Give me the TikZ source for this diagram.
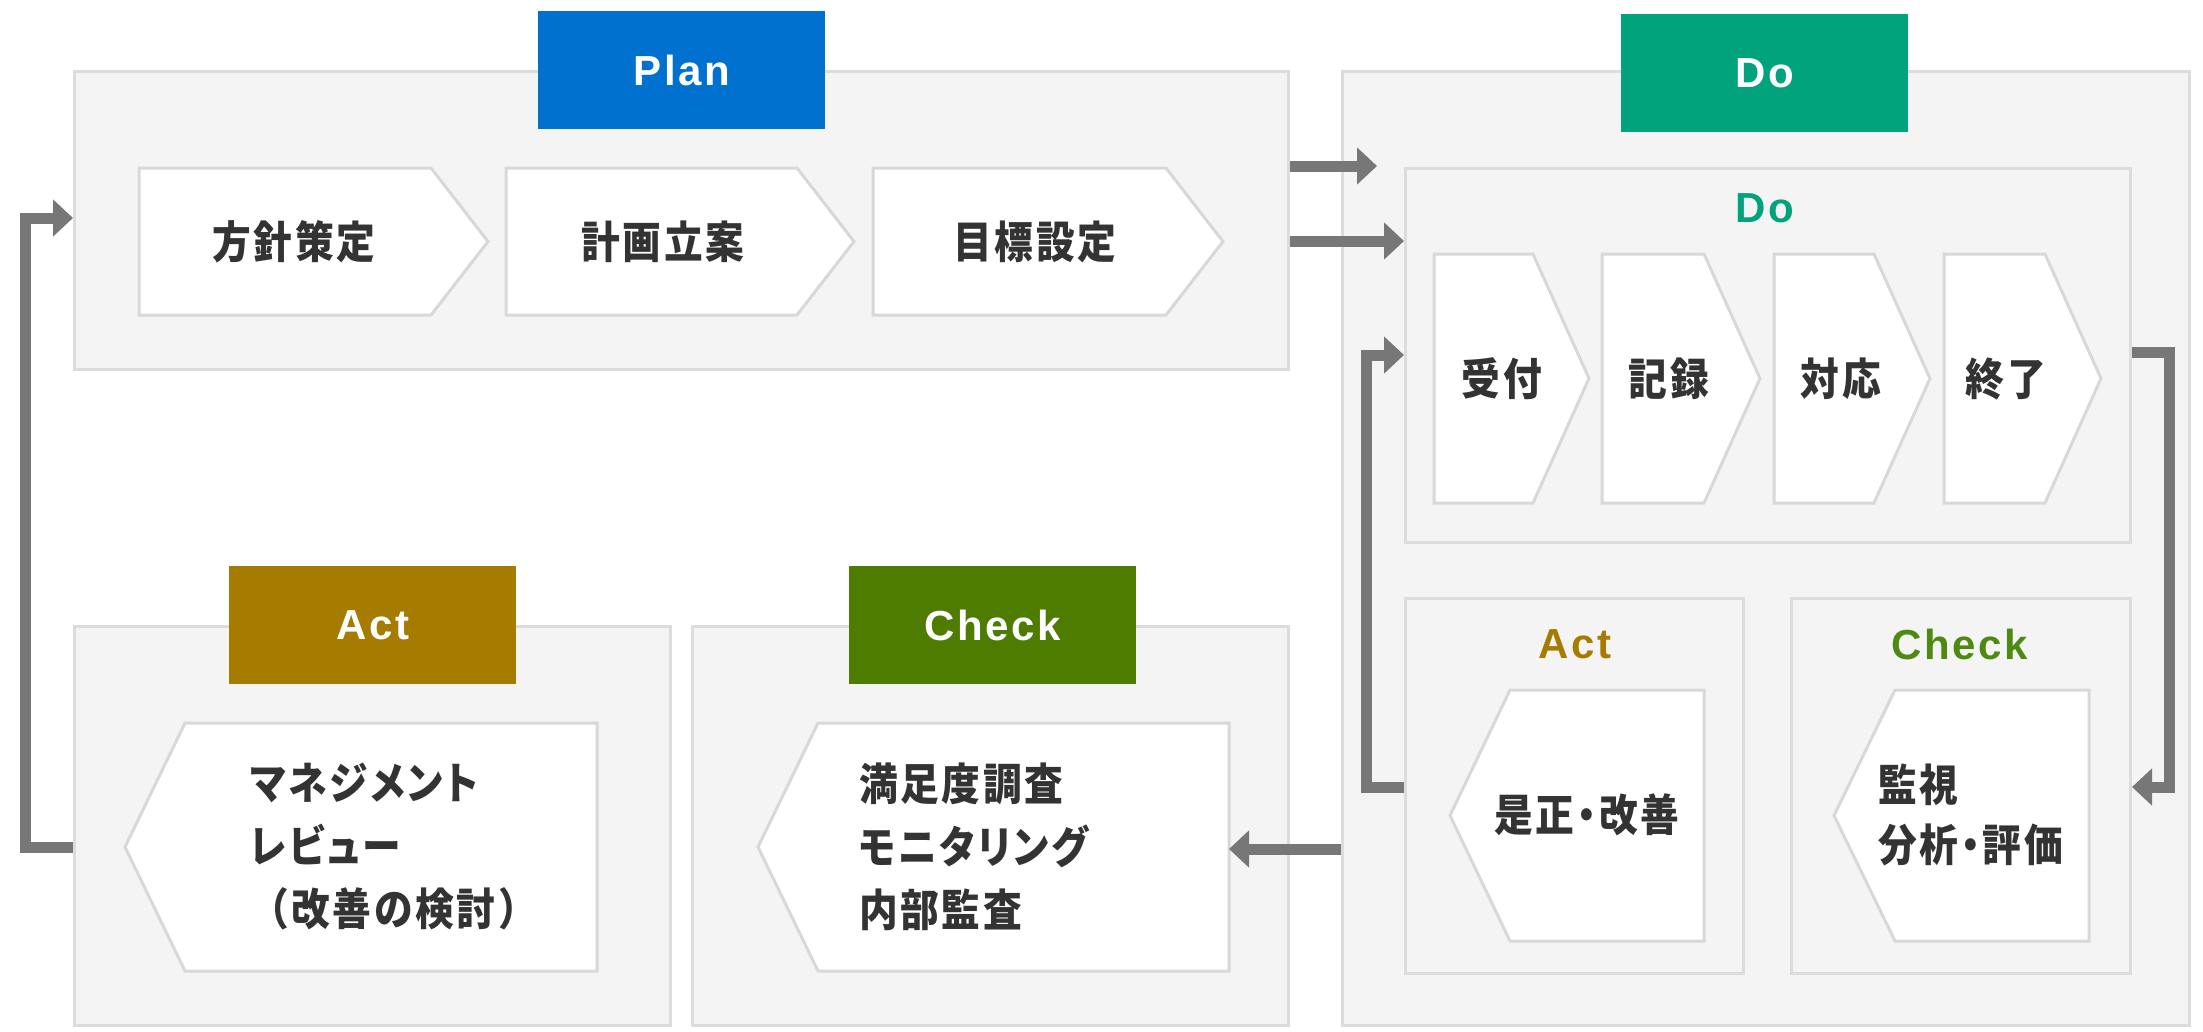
\documentclass[tikz,border=0pt]{standalone}
\usepackage{fontspec}
\setmainfont{Noto Sans CJK JP}[FakeStretch=0.88, LetterSpace=6]
\newfontfamily\jpp{Noto Sans CJK JP}[FakeStretch=0.88, LetterSpace=6, RawFeature=+palt]
\newfontfamily\lsans{Liberation Sans}[LetterSpace=6]
\usetikzlibrary{arrows.meta}
\definecolor{planc}{HTML}{0071CE}
\definecolor{doc}{HTML}{00A37C}
\definecolor{actc}{HTML}{A67C00}
\definecolor{chkc}{HTML}{4E7C00}
\definecolor{chklbl}{HTML}{4E8A12}
\definecolor{boxfill}{HTML}{F4F4F4}
\definecolor{boxline}{HTML}{DCDCDC}
\definecolor{chevline}{HTML}{D8D8D8}
\definecolor{arrowc}{HTML}{777777}
\definecolor{txt}{HTML}{333333}
\newcommand\labfont{\lsans\bfseries\fontsize{42}{48}\selectfont}
\newcommand\jpfont{\bfseries\fontsize{44}{63}\selectfont}
\newcommand\jpfontb{\bfseries\fontsize{44}{60}\selectfont}
\newcommand\pk[1]{{\jpp\bfseries #1}}
\begin{document}
\begin{tikzpicture}[x=1pt,y=-1pt,
  panel/.style={rectangle, draw=boxline, fill=boxfill, line width=3pt, anchor=north west, inner sep=0pt},
  tabbox/.style={rectangle, anchor=north west, inner sep=0pt, minimum width=287pt, minimum height=118pt, text=white, font=\labfont},
  chev/.style={draw=chevline, fill=white, line width=3pt, line join=miter},
  jp/.style={text=txt, font=\jpfont, inner sep=0pt},
  conn/.style={draw=arrowc, line width=11pt, line join=miter, -{Triangle[length=20pt,width=36pt]}},
  lbl/.style={font=\labfont, inner sep=0pt}
]
\useasboundingbox[fill=white] (0,0) rectangle (2203,1031);
% panels
\node[panel, minimum width=1214pt, minimum height=298pt] (plan) at (73,70) {};
\node[panel, minimum width=847pt, minimum height=954pt] (do) at (1341,70) {};
\node[panel, minimum width=596pt, minimum height=399pt] (act) at (73,625) {};
\node[panel, minimum width=596pt, minimum height=399pt] (check) at (691,625) {};
\node[panel, minimum width=725pt, minimum height=374pt] (doin) at (1404,167) {};
\node[panel, minimum width=338pt, minimum height=375pt] (actin) at (1404,597) {};
\node[panel, minimum width=339pt, minimum height=375pt] (checkin) at (1790,597) {};
% tabs
\node[tabbox, fill=planc] (plantab) at (538,11) {Plan};
\node[tabbox, fill=doc] (dotab) at (1621,14) {Do};
\node[tabbox, fill=actc] (acttab) at (229,566) {Act};
\node[tabbox, fill=chkc] (checktab) at (849,566) {Check};
% inner labels
\node[lbl, text=doc] (dolbl) at (1765,208) {Do};
\node[lbl, text=actc] (actlbl) at (1575,644) {Act};
\node[lbl, text=chklbl] (checklbl) at (1960,644) {Check};
% plan chevrons
\draw[chev] (139,168) -- (431,168) -- (488,241.5) -- (431,315) -- (139,315) -- cycle;
\draw[chev] (506,168) -- (797,168) -- (854,241.5) -- (797,315) -- (506,315) -- cycle;
\draw[chev] (873,168) -- (1166,168) -- (1223,241.5) -- (1166,315) -- (873,315) -- cycle;
\node[jp] (p1) at (294,242) {方針策定};
\node[jp] (p2) at (663,242) {計画立案};
\node[jp] (p3) at (1035,242) {目標設定};
% do chevrons
\draw[chev] (1434,254) -- (1533,254) -- (1589,378.5) -- (1533,503) -- (1434,503) -- cycle;
\draw[chev] (1602,254) -- (1704,254) -- (1760,378.5) -- (1704,503) -- (1602,503) -- cycle;
\draw[chev] (1774,254) -- (1874,254) -- (1930,378.5) -- (1874,503) -- (1774,503) -- cycle;
\draw[chev] (1944,254) -- (2045,254) -- (2101,378.5) -- (2045,503) -- (1944,503) -- cycle;
\node[jp] (d1) at (1502,379) {受付};
\node[jp] (d2) at (1669,379) {記録};
\node[jp] (d3) at (1841,379) {対応};
\node[jp] (d4) at (2006,379) {終了};
% do act / check chevrons
\draw[chev] (1704,690) -- (1510,690) -- (1450,815.5) -- (1510,941) -- (1704,941) -- cycle;
\draw[chev] (2089,690) -- (1895,690) -- (1834,815.5) -- (1895,941) -- (2089,941) -- cycle;
\node[jp] (da) at (1587,815) {\pk{是正・改善}};
\node[jp, font=\jpfontb, align=left, anchor=west] (dc) at (1878,815) {監視\\\pk{分析・評価}};
% bottom act / check chevrons
\draw[chev] (597,723) -- (185,723) -- (125,847) -- (185,971) -- (597,971) -- cycle;
\draw[chev] (1229,723) -- (818,723) -- (758,847) -- (818,971) -- (1229,971) -- cycle;
\node[jp, align=left, anchor=west] (ba) at (250,847) {\pk{マネジメント}\\\pk{レビュー}\\（改善の検討）};
\node[jp, align=left, anchor=west] (bc) at (859,847) {満足度調査\\\pk{モニタリング}\\内部監査};
% coordinates
\coordinate (actTip) at (125,847);
\coordinate (chkR) at (1229,849);
\coordinate (doArrowEnd) at (1377,166);
% connectors
\draw[conn] (plan.east |- doArrowEnd) -- (doArrowEnd);
\draw[conn] (plan.east |- 0,241) -- (doin.west |- 0,241);
\draw[conn] (do.west |- chkR) -- (chkR);
\draw[conn] (act.west |- actTip) -- ++(-48,0) |- (plan.west |- 0,218);
\draw[conn] (actin.west |- 0,787) -- ++(-38,0) |- (doin.west |- 0,355);
\draw[conn] (doin.east |- 0,352) -- ++(37,0) |- (checkin.east |- 0,787);
\end{tikzpicture}
\end{document}
